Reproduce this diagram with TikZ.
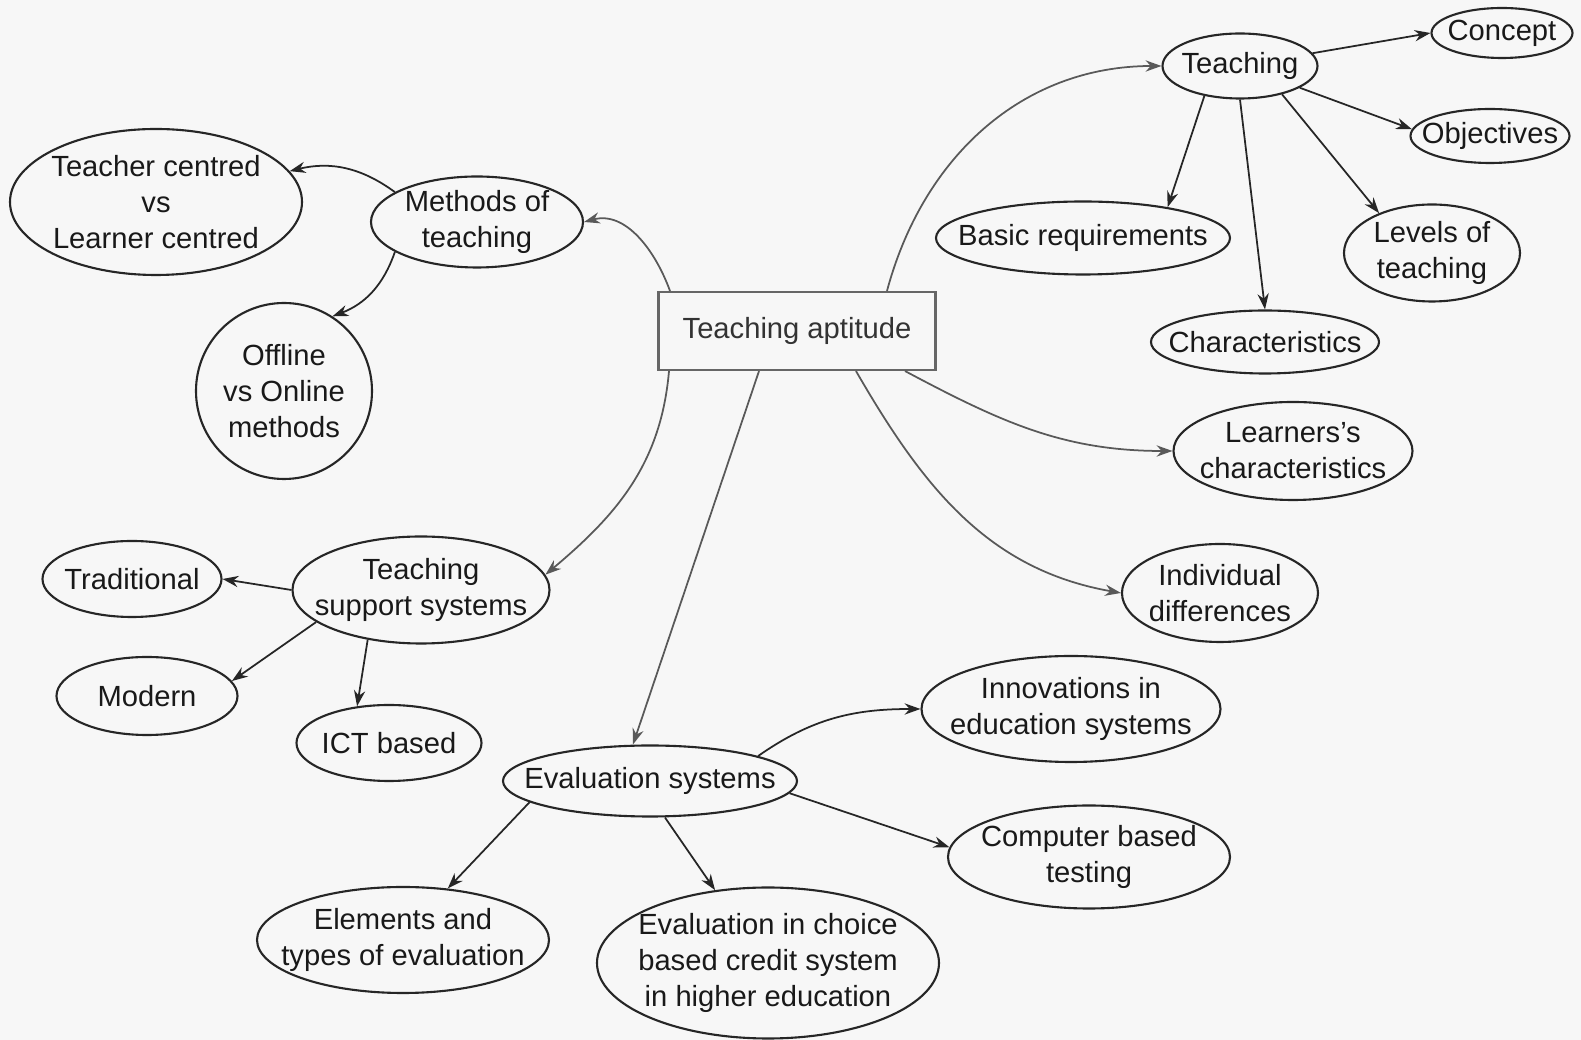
\documentclass[tikz,border=0pt]{standalone}
\usepackage{fontspec}
\setmainfont{Liberation Sans}
\usetikzlibrary{arrows.meta,shapes.geometric}
\tikzset{
	txt/.style={font=\fontsize{8.3}{10.3}\selectfont, align=center, text=black!90},
	bubble/.style n args={3}{ellipse, draw=black!85, line width=0.6pt, inner sep=0pt, minimum width=#1cm, minimum height=#2cm, label={[txt]center:{#3}}},
	rootbox/.style={rectangle, draw=black!60, line width=0.6pt, inner sep=0pt, minimum width=2.77cm, minimum height=0.78cm, txt, text=black!80},
	link/.style={draw=black!85, line width=0.5pt, -{Stealth[length=4.5pt,width=3.2pt]}},
	mainlink/.style={link, draw=black!65}
}

\begin{document}
\begin{tikzpicture}
				\fill[black!3] (0, 0) rectangle (15.81, -10.40);
				
				\node[rootbox] (root) at (7.97, -3.31) {Teaching aptitude};
				
				\node[bubble={1.55}{0.65}{Teaching}] (teach) at (12.40, -0.66) {};
				\node[bubble={1.41}{0.50}{Concept}] (concept) at (15.02, -0.33) {};
				\node[bubble={1.59}{0.54}{Objectives}] (obj) at (14.90, -1.36) {};
				\node[bubble={2.94}{0.73}{Basic requirements}] (basic) at (10.83, -2.38) {};
				\node[bubble={1.76}{0.97}{Levels of\\teaching}] (levels) at (14.32, -2.53) {};
				\node[bubble={2.28}{0.63}{Characteristics}] (charac) at (12.65, -3.42) {};
				\node[bubble={2.39}{0.98}{Learners's\\characteristics}] (learn) at (12.93, -4.51) {};
				\node[bubble={1.96}{0.98}{Individual\\differences}] (indiv) at (12.20, -5.93) {};
				
				\node[bubble={2.12}{0.91}{Methods of\\teaching}] (methods) at (4.77, -2.22) {};
				\node[bubble={2.92}{1.46}{Teacher centred\\vs\\Learner centred}] (tvl) at (1.56, -2.02) {};
				\node[bubble={1.76}{1.76}{Offline\\vs Online\\methods}] (offline) at (2.84, -3.91) {};
				
				\node[bubble={2.57}{1.07}{Teaching\\support systems}] (tss) at (4.21, -5.90) {};
				\node[bubble={1.79}{0.76}{Traditional}] (trad) at (1.32, -5.79) {};
				\node[bubble={1.81}{0.78}{Modern}] (modern) at (1.47, -6.96) {};
				\node[bubble={1.85}{0.76}{ICT based}] (ict) at (3.89, -7.43) {};
				
				\node[bubble={2.94}{0.71}{Evaluation systems}] (evals) at (6.50, -7.81) {};
				\node[bubble={2.99}{1.06}{Innovations in\\education systems}] (innov) at (10.71, -7.09) {};
				\node[bubble={2.82}{1.03}{Computer based\\testing}] (cbt) at (10.89, -8.57) {};
				\node[bubble={2.92}{1.06}{Elements and\\types of evaluation}] (elem) at (4.03, -9.40) {};
				\node[bubble={3.42}{1.51}{Evaluation in choice\\based credit system\\in higher education}] (ecbcs) at (7.68, -9.63) {};
				
				\draw[mainlink] ([xshift=0.9cm]root.north) to[out=75, in=180] (teach.west);
				\draw[mainlink] ([xshift=-1.27cm]root.north) to[out=110, in=15] (methods.east);
				\draw[mainlink] ([xshift=-1.28cm]root.south) to[out=-95, in=40] (tss.7);
				\draw[mainlink] ([xshift=-0.38cm]root.south) -- ([xshift=-0.17cm]evals.north);
				\draw[mainlink] ([xshift=0.59cm]root.south) to[out=-60, in=170] (indiv.west);
				\draw[mainlink] ([xshift=1.08cm]root.south) to[out=-28, in=180] (learn.west);
				
				\draw[link] (teach.10) -- (concept.west);
				\draw[link] (teach.-20) -- (obj.175);
				\draw[link] (teach.220) -- (basic.20);
				\draw[link] (teach.south) -- (charac.north);
				\draw[link] (teach.-34) -- (levels.143);
				
				\draw[link] (methods.160) to[bend right=25] (tvl.13);
				\draw[link] (methods.200) to[bend left=25] (offline.57);
				
				\draw[link] (tss.west) -- (trad.east);
				\draw[link] (tss.197) -- (modern.10);
				\draw[link] (tss.223) -- (ict.131);
				
				\draw[link] (evals.13) to[out=35, in=180] (innov.west);
				\draw[link] (evals.-5) -- (cbt.176);
				\draw[link] (evals.190) -- (elem.49);
				\draw[link] ([xshift=0.15cm]evals.south) -- (ecbcs.126);
\end{tikzpicture}
\end{document}
